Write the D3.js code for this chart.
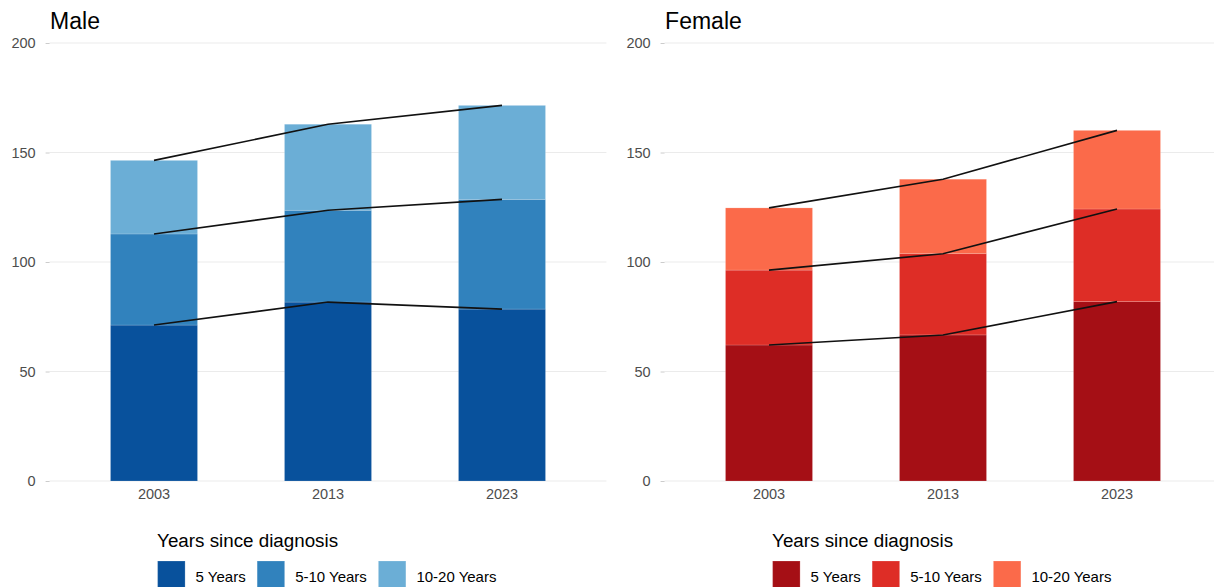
<!DOCTYPE html>
<html>
<head>
<meta charset="utf-8">
<script src="https://cdn.jsdelivr.net/npm/d3@7"></script>
<style>
  body { margin: 0; background: #fff; }
  svg { display: block; font-family: "Liberation Sans", Arial, Helvetica, sans-serif; }
</style>
</head>
<body>
<div id="chart"></div>
<script>
// chart values
const years = ["2003", "2013", "2023"];
const groups = ["5 Years", "5-10 Years", "10-20 Years"];
const yTicks = [0, 50, 100, 150, 200];

const male5 = [71.2, 81.7, 78.5];
const male510 = [41.6, 41.9, 50.1];
const male1020 = [33.6, 39.3, 42.9];

const female5 = [62.1, 66.7, 81.9];
const female510 = [34.2, 37.1, 42.3];
const female1020 = [28.4, 34.0, 35.9];

const blues = ["#08519c", "#3182bd", "#6baed6"];
const reds = ["#a50f15", "#de2d26", "#fb6a4a"];

const width = 1214, height = 587;

const svg = d3.select("#chart")
    .append("svg")
    .attr("width", width)
    .attr("height", height);

const panels = [
    {title: "Male", series: [male5, male510, male1020], colors: blues, left: 49.6},
    {title: "Female", series: [female5, female510, female1020], colors: reds, left: 664.6}
];

const panelWidth = 556.8;

var y = d3.scaleLinear().domain([0, 200]).range([481, 43]);

panels.forEach(function(p) {
    let g = svg.append("g");

    var x = d3.scaleBand()
        .domain(years)
        .range([p.left, p.left + panelWidth])
        .paddingInner(0.5)
        .paddingOuter(0.35);

    // gridlines
    g.selectAll(".grid")
        .data(yTicks)
        .join("line")
        .attr("x1", p.left)
        .attr("x2", p.left + panelWidth)
        .attr("y1", d => y(d))
        .attr("y2", d => y(d))
        .attr("stroke", "#ebebeb")
        .attr("stroke-width", 1);

    // y axis
    let yAxis = g.append("g")
        .attr("transform", `translate(${p.left},0)`)
        .call(d3.axisLeft(y).tickValues(yTicks).tickSize(4).tickPadding(10));
    yAxis.select(".domain").remove();
    yAxis.selectAll("line").attr("stroke", "#cccccc");
    yAxis.selectAll("text").attr("fill", "#4d4d4d").style("font-size", "14.5px")
        .style("font-family", "Liberation Sans, Arial, sans-serif");

    // x axis
    let xAxis = g.append("g")
        .attr("transform", "translate(0,481)")
        .call(d3.axisBottom(x).tickSize(0).tickPadding(8));
    xAxis.select(".domain").remove();
    xAxis.selectAll("text").attr("fill", "#4d4d4d").style("font-size", "14.5px")
        .style("font-family", "Liberation Sans, Arial, sans-serif");

    // stack data
    let rows = years.map((yr, i) => {
        let r = {year: yr};
        groups.forEach((gr, k) => { r[gr] = p.series[k][i]; });
        return r;
    });
    let stacked = d3.stack().keys(groups)(rows);

    stacked.forEach(function(layer, k) {
        g.selectAll(".bar" + k)
            .data(layer)
            .join("rect")
            .attr("x", d => x(d.data.year))
            .attr("width", x.bandwidth())
            .attr("y", d => y(d[1]))
            .attr("height", d => y(d[0]) - y(d[1]))
            .attr("fill", p.colors[k])
            .attr("stroke", "#ffffff")
            .attr("stroke-opacity", 0.2)
            .attr("stroke-width", 0.8);
    });

    // lines through cumulative tops
    var line = d3.line()
        .x(d => x(d.data.year) + x.bandwidth() / 2)
        .y(d => y(d[1]));

    stacked.forEach(function(layer) {
        g.append("path")
            .datum(layer)
            .attr("d", line)
            .attr("fill", "none")
            .attr("stroke", "#111")
            .attr("stroke-width", 1.6);
    });

    // panel title
    g.append("text")
        .attr("x", p.left + 0.5)
        .attr("y", 28.5)
        .text(p.title)
        .style("font-size", "23px")
        .attr("fill", "#000");

    // legend
    let lx = p.left + 107.5;
    g.append("text")
        .attr("x", lx)
        .attr("y", 547)
        .text("Years since diagnosis")
        .style("font-size", "18.8px")
        .attr("fill", "#000");

    let kx = lx + 0.5;
    groups.forEach(function(gr, k) {
        g.append("rect")
            .attr("x", kx)
            .attr("y", 561)
            .attr("width", 27.5)
            .attr("height", 28)
            .attr("fill", p.colors[k])
            .attr("stroke", "#ffffff")
            .attr("stroke-opacity", 0.2);
        let t = g.append("text")
            .attr("x", kx + 38)
            .attr("y", 581.5)
            .text(gr)
            .style("font-size", "15px")
            .attr("fill", "#000");
        kx = kx + 38 + t.node().getComputedTextLength() + 11.5;
    });
});
</script>
</body>
</html>
